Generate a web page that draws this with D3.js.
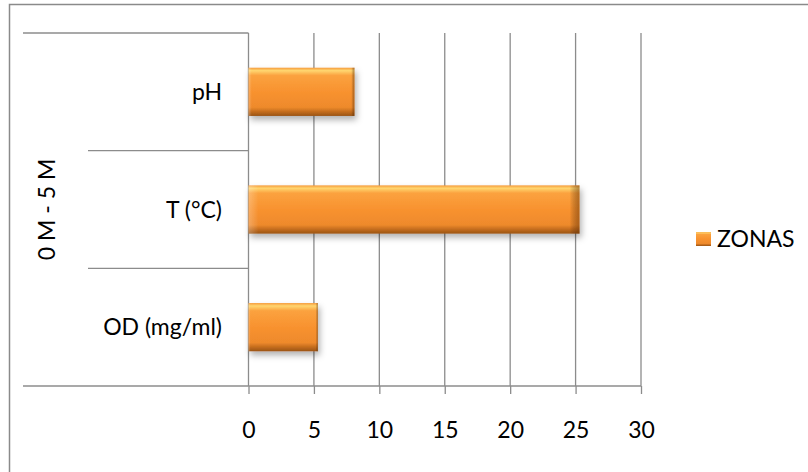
<!DOCTYPE html>
<html>
<head>
<meta charset="utf-8">
<script src="https://cdn.jsdelivr.net/npm/d3@7"></script>
<style>
  body { margin: 0; background: #fff; }
  text { font-family: Lato, "Open Sans", sans-serif; fill: #000; }
</style>
</head>
<body>
<div id="chart"></div>
<script>
// data, top row first (as it is shown)
var categories = ["pH", "T (°C)", "OD (mg/ml)"];
var zonas = [8.1, 25.3, 5.3];
var groupLabel = "0 M - 5 M";
var seriesName = "ZONAS";
var xTicks = [0, 5, 10, 15, 20, 25, 30];

var width = 808, height = 472;
var plot = { left: 248.5, right: 641, top: 33, bottom: 386 };
var gridColor = "#8c8c8c";
var fontSize = "23px";

var svg = d3.select("#chart").append("svg")
    .attr("width", width)
    .attr("height", height);

// gradients for the bevelled orange bars
var defs = svg.append("defs");
var vg = defs.append("linearGradient").attr("id", "barV")
    .attr("x1", 0).attr("y1", 0).attr("x2", 0).attr("y2", 1);
[[0, "#f59a3a"], [0.06, "#ffd670"], [0.16, "#fba23f"], [0.5, "#f8922f"],
 [0.82, "#ee8a2c"], [0.9, "#c9701f"], [1, "#9a5414"]].forEach(function(s) {
    vg.append("stop").attr("offset", s[0]).attr("stop-color", s[1]);
});
var hg = defs.append("linearGradient").attr("id", "barH")
    .attr("x1", 0).attr("y1", 0).attr("x2", 1).attr("y2", 0);
[[0, "#ffffff", 0.25], [0.03, "#ffffff", 0], [0.97, "#000000", 0], [1, "#5a2a00", 0.45]].forEach(function(s) {
    hg.append("stop").attr("offset", s[0]).attr("stop-color", s[1]).attr("stop-opacity", s[2]);
});
var shadow = defs.append("filter").attr("id", "shadow")
    .attr("x", "-10%").attr("y", "-20%").attr("width", "130%").attr("height", "160%");
shadow.append("feDropShadow").attr("dx", 2).attr("dy", 4).attr("stdDeviation", 3)
    .attr("flood-color", "#000").attr("flood-opacity", 0.3);

// outer frame
svg.append("rect")
    .attr("x", 9.5).attr("y", 4.5)
    .attr("width", width).attr("height", height)
    .attr("fill", "none").attr("stroke", "#8a8a8a").attr("stroke-width", 1.5);

var x = d3.scaleLinear().domain([0, 30]).range([plot.left, plot.right]);
var y = d3.scaleBand().domain(categories).range([plot.top, plot.bottom]).padding(0);

// vertical gridlines
svg.append("g").selectAll("line").data(xTicks).enter().append("line")
    .attr("x1", d => x(d)).attr("x2", d => x(d))
    .attr("y1", plot.top).attr("y2", plot.bottom)
    .attr("stroke", gridColor).attr("stroke-width", 1.3);

// bottom axis with tick marks
var xAxis = svg.append("g")
    .attr("transform", "translate(0," + plot.bottom + ")")
    .call(d3.axisBottom(x).tickValues(xTicks).tickSize(8).tickSizeOuter(0));
xAxis.select(".domain").remove();
xAxis.selectAll(".tick line").attr("stroke", gridColor).attr("stroke-width", 1.3);
xAxis.selectAll(".tick text")
    .attr("y", 52).attr("dy", 0)
    .style("font-size", fontSize).attr("fill", "#000");

// category axis lines (two levels)
var catLines = [plot.top].concat(categories.map(c => y(c) + y.bandwidth()));
svg.append("g").selectAll("line").data(catLines).enter().append("line")
    .attr("x1", (d, i) => (i === 0 || i === catLines.length - 1) ? 23 : 88)
    .attr("x2", plot.left)
    .attr("y1", d => d).attr("y2", d => d)
    .attr("stroke", gridColor).attr("stroke-width", 1.3);
svg.append("line")
    .attr("x1", plot.left).attr("x2", plot.right)
    .attr("y1", plot.bottom).attr("y2", plot.bottom)
    .attr("stroke", gridColor).attr("stroke-width", 1.3);

// category labels
svg.append("g").selectAll("text").data(categories).enter().append("text")
    .attr("x", 222)
    .attr("y", d => y(d) + y.bandwidth() / 2)
    .attr("dy", "0.35em")
    .attr("text-anchor", "end")
    .style("font-size", fontSize)
    .text(d => d);

// group label, rotated
svg.append("text")
    .attr("transform", "translate(55," + (plot.top + plot.bottom) / 2 + ") rotate(-90)")
    .attr("text-anchor", "middle")
    .style("font-size", fontSize)
    .text(groupLabel);

// bars
var barH = y.bandwidth() * 0.41;
var bars = svg.append("g").selectAll("g").data(zonas).enter().append("g")
    .attr("filter", "url(#shadow)");
bars.append("rect")
    .attr("x", x(0))
    .attr("y", (d, i) => y(categories[i]) + (y.bandwidth() - barH) / 2)
    .attr("width", d => x(d) - x(0))
    .attr("height", barH)
    .attr("fill", "url(#barV)");
bars.append("rect")
    .attr("x", x(0))
    .attr("y", (d, i) => y(categories[i]) + (y.bandwidth() - barH) / 2)
    .attr("width", d => x(d) - x(0))
    .attr("height", barH)
    .attr("fill", "url(#barH)");

// legend
var legend = svg.append("g").attr("transform", "translate(696,232)");
legend.append("rect").attr("width", 15).attr("height", 14).attr("fill", "url(#barV)");
legend.append("rect").attr("width", 15).attr("height", 14).attr("fill", "url(#barH)");
legend.append("text")
    .attr("x", 21).attr("y", 7).attr("dy", "0.35em")
    .style("font-size", fontSize)
    .text(seriesName);
</script>
</body>
</html>
